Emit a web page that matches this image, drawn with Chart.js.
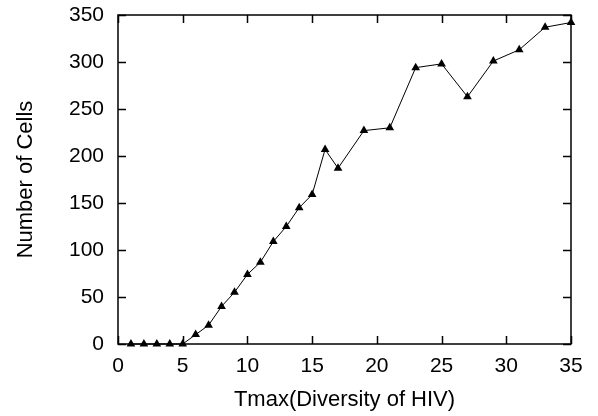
<!DOCTYPE html>
<html>
<head>
<meta charset="utf-8">
<script src="https://cdn.jsdelivr.net/npm/chart.js@4/dist/chart.umd.min.js"></script>
<style>
  html, body { margin: 0; padding: 0; background: #fff; }
  #wrap { width: 598px; height: 416px; }
</style>
</head>
<body>
<div id="wrap"><canvas id="c" width="598" height="416"></canvas></div>
<script>
// Data
const tmax = [1, 2, 3, 4, 5, 6, 7, 8, 9, 10, 11, 12, 13, 14, 15, 16, 17, 19, 21, 23, 25, 27, 29, 31, 33, 35];
const cells = [0, 0, 0, 0, 0, 10, 20, 40, 55, 74, 87, 109, 125, 145, 159, 207, 187, 227, 230, 294, 298, 263, 301, 313, 337, 342];
const xTicks = [0, 5, 10, 15, 20, 25, 30, 35];
const yTicks = [0, 50, 100, 150, 200, 250, 300, 350];

const font = "'Liberation Sans', Arial, sans-serif";

// gnuplot-style inward ticks on all four sides
const inwardTicks = {
  id: "inwardTicks",
  afterDraw(chart) {
    const { ctx, chartArea: a, scales } = chart;
    const len = 8;
    ctx.save();
    ctx.strokeStyle = "#000";
    ctx.lineWidth = 1.5;
    ctx.beginPath();
    xTicks.forEach(v => {
      const px = Math.round(scales.x.getPixelForValue(v)) + 0.5;
      ctx.moveTo(px, a.bottom); ctx.lineTo(px, a.bottom - len);
      ctx.moveTo(px, a.top); ctx.lineTo(px, a.top + len);
    });
    yTicks.forEach(v => {
      const py = Math.round(scales.y.getPixelForValue(v)) + 0.5;
      ctx.moveTo(a.left, py); ctx.lineTo(a.left + len, py);
      ctx.moveTo(a.right, py); ctx.lineTo(a.right - len, py);
    });
    ctx.stroke();
    ctx.strokeRect(a.left, a.top, a.right - a.left, a.bottom - a.top);
    ctx.restore();
  }
};

new Chart(document.getElementById("c"), {
  type: "line",
  data: {
    datasets: [{
      data: tmax.map((x, i) => ({ x, y: cells[i] })),
      borderColor: "#000",
      backgroundColor: "#000",
      borderWidth: 1,
      pointStyle: "triangle",
      pointRadius: 5,
      pointBorderWidth: 0,
      tension: 0,
      clip: false
    }]
  },
  options: {
    responsive: false,
    animation: false,
    layout: { padding: { top: 15, right: 27, left: 0, bottom: 0 } },
    plugins: { legend: { display: false }, tooltip: { enabled: false } },
    scales: {
      x: {
        type: "linear",
        min: 0,
        max: 35,
        afterBuildTicks: s => { s.ticks = xTicks.map(v => ({ value: v })); },
        afterFit: s => { s.height = 72; s.paddingLeft = 0; s.paddingRight = 0; },
        grid: { display: false, drawTicks: false },
        border: { display: false },
        ticks: { color: "#000", font: { family: font, size: 21 }, padding: 10, maxRotation: 0 },
        title: { display: true, text: "Tmax(Diversity of HIV)", color: "#000", font: { family: font, size: 22 }, padding: { top: 0, bottom: 3 } }
      },
      y: {
        type: "linear",
        min: 0,
        max: 350,
        afterBuildTicks: s => { s.ticks = yTicks.map(v => ({ value: v })); },
        afterFit: s => { s.width = 118; s.paddingTop = 0; s.paddingBottom = 0; },
        grid: { display: false, drawTicks: false },
        border: { display: false },
        ticks: { color: "#000", font: { family: font, size: 21 }, padding: 14 },
        title: { display: true, text: "Number of Cells", color: "#000", font: { family: font, size: 22 }, padding: { top: 13, bottom: 0 } }
      }
    }
  },
  plugins: [inwardTicks]
});
</script>
</body>
</html>
